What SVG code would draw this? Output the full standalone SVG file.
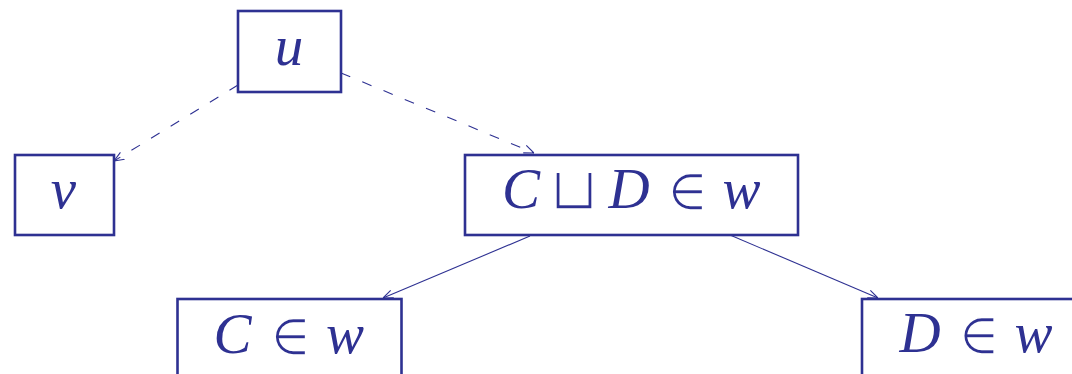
<svg xmlns="http://www.w3.org/2000/svg" width="1072" height="374" viewBox="0 0 1072 374">
  <style>
    .box { fill: #ffffff; stroke: #2e3192; stroke-width: 2.6; }
    .edge { fill: none; stroke: #2e3192; stroke-width: 1.1; }
    .dash { stroke-dasharray: 10 13; }
    .var { font-family: "Liberation Serif", "DejaVu Serif", serif; font-style: italic; font-size: 57px; fill: #2e3192; text-anchor: middle; }
    /* operators: heavy glyphs thinned with a white outline painted over the fill */
    .sym { font-family: "DejaVu Serif", serif; font-size: 58px; fill: #2e3192; stroke: #ffffff; stroke-width: 1.7; paint-order: fill stroke; text-anchor: middle; }
  </style>
  <defs>
    <marker id="arrow" viewBox="0 0 10 10" refX="10" refY="5" markerWidth="10" markerHeight="10" markerUnits="userSpaceOnUse" orient="auto">
      <path d="M0,1 L10,5 L0,9" fill="none" stroke="#2e3192" stroke-width="1.1"/>
    </marker>
  </defs>

  <rect width="1072" height="374" fill="#ffffff"/>

  <g id="connectors">
    <line class="edge dash" x1="238" y1="85" x2="114" y2="161" marker-end="url(#arrow)"/>
    <line class="edge dash" x1="341" y1="73" x2="534" y2="153" marker-end="url(#arrow)"/>
    <line class="edge" x1="530" y1="236" x2="383" y2="298" marker-end="url(#arrow)"/>
    <line class="edge" x1="730" y1="235" x2="878" y2="298" marker-end="url(#arrow)"/>
  </g>

  <g id="node-u">
    <rect class="box" x="238" y="11" width="103" height="81"/>
    <text class="var" x="289" y="65">u</text>
  </g>

  <g id="node-v">
    <rect class="box" x="15" y="155" width="99" height="80"/>
    <text class="var" x="63.5" y="208">v</text>
  </g>

  <g id="node-cd">
    <rect class="box" x="465" y="155" width="333" height="80"/>
    <text class="var" x="521" y="208">C</text>
    <text class="sym" x="574" y="209">⊔</text>
    <text class="var" x="629" y="208">D</text>
    <text class="sym" x="687.5" y="210">∈</text>
    <text class="var" x="741.5" y="208">w</text>
  </g>

  <g id="node-c">
    <rect class="box" x="177.5" y="299" width="224" height="90"/>
    <text class="var" x="232.5" y="353">C</text>
    <text class="sym" x="290.5" y="355">∈</text>
    <text class="var" x="345" y="353">w</text>
  </g>

  <g id="node-d">
    <rect class="box" x="862" y="299" width="230" height="90"/>
    <text class="var" x="920" y="352">D</text>
    <text class="sym" x="979" y="354">∈</text>
    <text class="var" x="1033.5" y="352">w</text>
  </g>
</svg>
